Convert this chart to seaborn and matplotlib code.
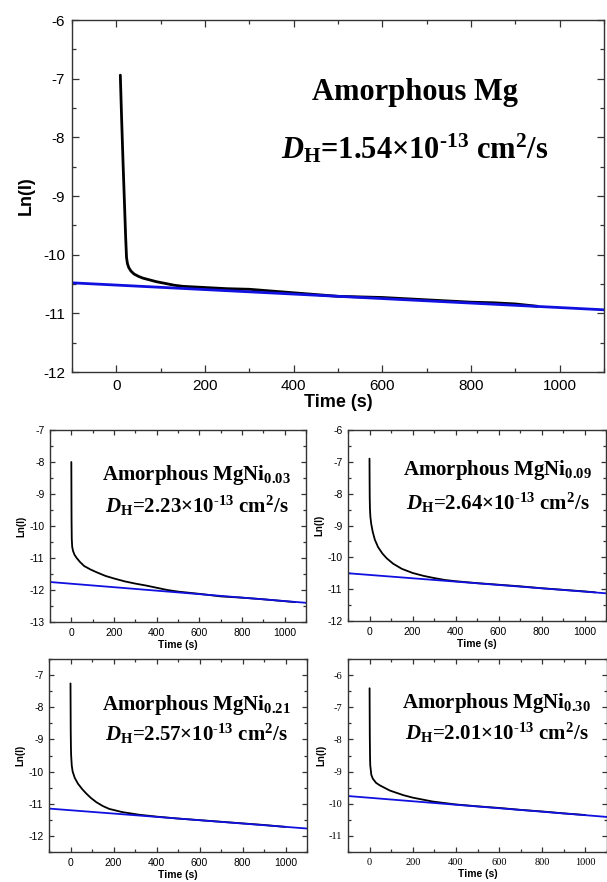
import numpy as np
import pandas as pd
import matplotlib
matplotlib.use('Agg')
import matplotlib.pyplot as plt
from matplotlib.ticker import MultipleLocator
import seaborn as sns

sns.set_style('ticks')
plt.rcParams['font.family'] = ['Liberation Sans', 'DejaVu Sans']
plt.rcParams['axes.unicode_minus'] = False
plt.rcParams['text.color'] = 'black'
plt.rcParams['axes.labelcolor'] = 'black'
plt.rcParams['xtick.labelcolor'] = 'black'
plt.rcParams['ytick.labelcolor'] = 'black'
plt.rcParams['mathtext.fontset'] = 'custom'
plt.rcParams['mathtext.rm'] = 'Liberation Serif:bold'
plt.rcParams['mathtext.it'] = 'Liberation Serif:bold:italic'
plt.rcParams['mathtext.bf'] = 'Liberation Serif:bold'

# ---- data ----
t_mg = [9, 10, 12, 15, 18, 21, 23, 25, 28, 33, 40, 50, 60, 75, 90, 110, 130, 150,
        175, 200, 250, 300, 350, 400, 450, 500, 550, 600, 650, 700, 750, 800,
        850, 900, 950]
ln_mg = [-6.94, -7.2, -7.7, -8.4, -9.05, -9.7, -10.05, -10.15, -10.22, -10.28,
         -10.33, -10.37, -10.40, -10.43, -10.46, -10.49, -10.52, -10.54, -10.55,
         -10.56, -10.58, -10.59, -10.62, -10.65, -10.68, -10.71, -10.72, -10.73,
         -10.75, -10.77, -10.79, -10.81, -10.82, -10.84, -10.88]
fit_mg = [-10.48, -10.94]

t_ni03 = [0, 0.5, 1, 2, 4, 8, 15, 25, 40, 60, 90, 120, 160, 200, 250, 300, 350,
          400, 450, 500, 600, 700, 800, 900, 1000, 1050]
ln_ni03 = [-8.0, -9.0, -9.8, -10.4, -10.65, -10.78, -10.9, -11.0, -11.12, -11.25,
           -11.36, -11.45, -11.56, -11.64, -11.73, -11.8, -11.86, -11.93, -12.0,
           -12.05, -12.12, -12.2, -12.24, -12.29, -12.35, -12.38]
fit_ni03 = [-11.75, -12.40]

t_ni09 = [0, 0.5, 1, 2, 4, 8, 15, 25, 40, 60, 80, 110, 150, 200, 250, 300, 350,
          400, 500, 600, 700, 800, 900, 1000, 1050]
ln_ni09 = [-6.9, -7.6, -8.1, -8.45, -8.72, -8.95, -9.2, -9.45, -9.68, -9.88, -10.03,
           -10.2, -10.36, -10.49, -10.58, -10.65, -10.71, -10.75, -10.81, -10.86,
           -10.91, -10.97, -11.02, -11.07, -11.1]
fit_ni09 = [-10.50, -11.13]

t_ni21 = [0, 0.5, 1, 2, 3, 6, 10, 20, 35, 55, 73, 95, 120, 150, 180, 241, 318,
          400, 500, 600, 700, 800, 900, 1000]
ln_ni21 = [-7.26, -8.0, -8.7, -9.25, -9.5, -9.82, -10.0, -10.2, -10.38, -10.55,
           -10.68, -10.82, -10.95, -11.07, -11.16, -11.26, -11.34, -11.4, -11.46,
           -11.51, -11.56, -11.61, -11.66, -11.72]
fit_ni21 = [-11.15, -11.77]

t_ni30 = [0, 0.5, 1, 2, 3, 8, 15, 30, 48, 94, 155, 200, 291, 397, 500, 600, 700,
          800, 900, 1000]
ln_ni30 = [-6.41, -7.2, -7.9, -8.5, -8.8, -9.1, -9.22, -9.35, -9.43, -9.59, -9.73,
           -9.81, -9.93, -10.02, -10.08, -10.13, -10.19, -10.24, -10.3, -10.35]
fit_ni30 = [-9.76, -10.41]

fit_t = [-100, 1100]

titles = ['Amorphous Mg', 'Amorphous MgNi$_{\\mathrm{0.03}}$',
          'Amorphous MgNi$_{\\mathrm{0.09}}$', 'Amorphous MgNi$_{\\mathrm{0.21}}$',
          'Amorphous MgNi$_{\\mathrm{0.30}}$']
dh_vals = ['1.54', '2.23', '2.64', '2.57', '2.01']
ylims = [(-12, -6), (-13, -7), (-12, -6), (-12.5, -6.5), (-11.5, -5.5)]

curves = [(t_mg, ln_mg, fit_mg), (t_ni03, ln_ni03, fit_ni03),
          (t_ni09, ln_ni09, fit_ni09), (t_ni21, ln_ni21, fit_ni21),
          (t_ni30, ln_ni30, fit_ni30)]

W, H = 607, 882
fig = plt.figure(figsize=(W / 100, H / 100), dpi=100)

# panel boxes in pixels: left, right, top, bottom
boxes = [(72, 604, 20, 372), (50, 306, 430, 622), (348, 606, 430, 621),
         (49, 307, 659, 852), (348, 607, 659, 852)]
text_pos = [(0.645, 0.795, 0.635), (0.574, 0.766, 0.605), (0.58, 0.79, 0.618),
            (0.57, 0.76, 0.612), (0.575, 0.77, 0.615)]

for i, (box, (t, y, fit)) in enumerate(zip(boxes, curves)):
    l, r, tp, b = box
    ax = fig.add_axes([l / W, 1 - b / H, (r - l) / W, (b - tp) / H])
    big = i == 0
    lw = 2.0 if big else 1.3
    sns.lineplot(x=t, y=y, ax=ax, color='black', lw=lw, estimator=None, sort=False)
    sns.lineplot(x=fit_t, y=fit, ax=ax, color='#1010e0', lw=lw, estimator=None)
    ax.set_xlim(-100, 1100)
    ax.set_ylim(*ylims[i])
    ax.xaxis.set_major_locator(MultipleLocator(200))
    ax.xaxis.set_minor_locator(MultipleLocator(100))
    ax.yaxis.set_major_locator(MultipleLocator(1))
    ax.yaxis.set_minor_locator(MultipleLocator(0.5))
    tick_fs = 11 if big else 7.5
    ax.tick_params(which='both', direction='in', top=True, right=True,
                   labelsize=tick_fs, color='#333333', width=0.9)
    ax.tick_params(which='major', length=5 if big else 3.5, pad=5 if big else 4)
    ax.tick_params(which='minor', length=3 if big else 2)
    if i == 4:
        for lab in ax.get_xticklabels() + ax.get_yticklabels():
            lab.set_family('Liberation Serif')
    for sp in ax.spines.values():
        sp.set_color('#333333')
        sp.set_linewidth(1.0)
    lab_fs = 13 if big else 7.5
    ax.set_xlabel('Time (s)', fontsize=lab_fs, fontweight='bold',
                  labelpad=1 if big else 1.5)
    ax.set_ylabel('Ln(I)', fontsize=lab_fs if big else 7, fontweight='bold',
                  labelpad=6 if big else 2)
    xc, y1, y2 = text_pos[i]
    ann_fs = 22 if big else 15
    ax.text(xc, y1, titles[i], transform=ax.transAxes, ha='center', va='center',
            fontsize=ann_fs, fontweight='bold', family='Liberation Serif')
    ax.text(xc, y2, '$\\mathit{D}_{\\mathrm{H}}$=' + dh_vals[i] +
            '\u00d710$^{\\mathrm{\u2010 13}}$ cm$^{\\mathrm{2}}$/s',
            transform=ax.transAxes, ha='center', va='center',
            fontsize=ann_fs, fontweight='bold', family='Liberation Serif')

fig.savefig('out.png', dpi=100)
